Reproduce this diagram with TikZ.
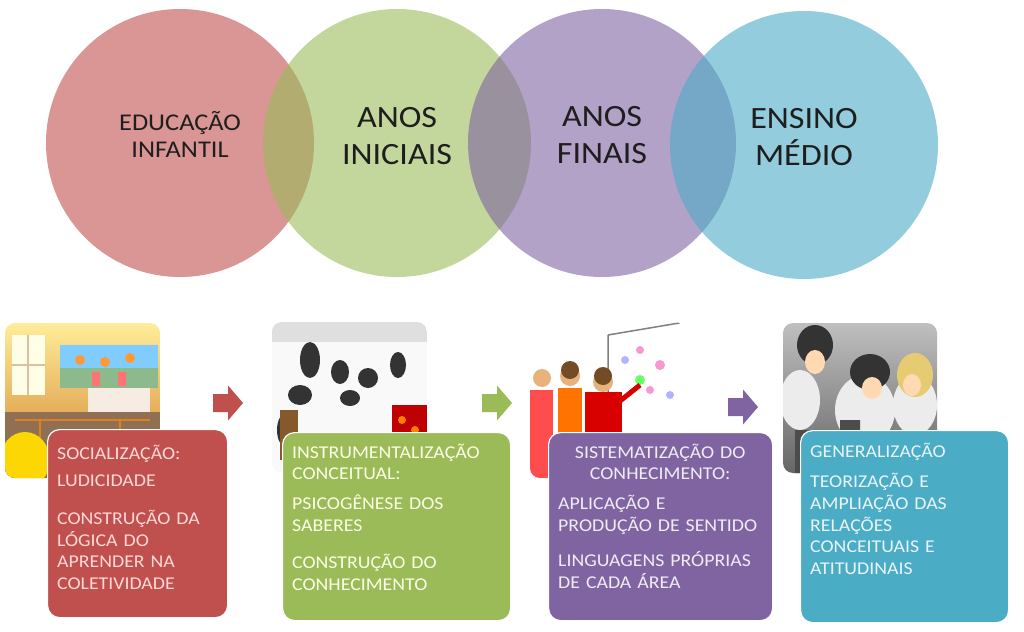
\documentclass[tikz,border=0pt]{standalone}
\usepackage{fontspec}
\setmainfont{Carlito}[FakeStretch=1.1]
\definecolor{redA}{HTML}{C0504D}
\definecolor{greenA}{HTML}{9BBB59}
\definecolor{purpleA}{HTML}{8064A2}
\definecolor{blueA}{HTML}{4BACC6}
\definecolor{inkA}{HTML}{1E1E1E}
\tikzset{
	stage/.style={circle,minimum size=268pt,inner sep=0pt,fill=#1,fill opacity=.6},
	stagetext/.style={align=center,text=inkA,inner sep=0pt,font=\fontsize{31}{37}\selectfont},
	card/.style={draw=white,line width=1.2pt,fill=#1,rounded corners=12pt,anchor=north west,inner sep=0pt},
	cardtext/.style={anchor=base west,inner sep=0pt,text width=#1,align=left,font=\fontsize{18}{21.7}\selectfont},
	photo/.style={rounded corners=10pt},
	pics/steparrow/.style={code={\fill[#1](0,-9)--(15,-9)--(15,-17.5)--(30,0)--(15,17.5)--(15,9)--(0,9)--cycle;}}
}
\begin{document}
\begin{tikzpicture}[x=1pt,y=-1pt]
	\useasboundingbox(0,0)rectangle(1024,631);
	% circles
	\node[stage=redA](ei)at(180,143){};
	\node[stage=greenA](ai)at(397,143){};
	\node[stage=purpleA](af)at(602,143){};
	\node[stage=blueA](em)at(804,145){};
	\node[stagetext,font=\fontsize{24}{27}\selectfont](eit)at([yshift=9pt]ei.center){EDUCAÇÃO\\INFANTIL};
	\node[stagetext](ait)at([yshift=7pt]ai.center){ANOS\\INICIAIS};
	\node[stagetext](aft)at([yshift=8pt]af.center){ANOS\\FINAIS};
	\node[stagetext](emt)at([yshift=8pt]em.center){ENSINO\\MÉDIO};
	% photo 1
	\begin{scope}
		\clip[photo](5,323)rectangle(160,478);
		\shade[top color=orange!35!yellow!40,bottom color=brown!70!orange](5,323)rectangle(160,478);
		\fill[yellow!10!white](12,335)rectangle(45,395);
		\draw[brown!50,line width=1.5pt](28,335)--(28,395)(12,365)--(45,365);
		\fill[blue!40!cyan!50](60,345)rectangle(158,368);
		\fill[green!40!black!45](60,368)rectangle(158,388);
		\fill[orange!80](80,360)circle(5)(105,362)circle(5)(130,358)circle(5);
		\fill[red!55](92,372)rectangle(100,386)(118,372)rectangle(126,386);
		\fill[white!85!brown](88,388)rectangle(150,412);
		\fill[brown!60!black!80](5,412)rectangle(160,478);
		\draw[orange!50!brown,line width=2pt](15,420)--(150,420)(40,420)--(40,470)(120,420)--(120,470);
		\fill[yellow!75!orange](25,460)ellipse(25 and 28);
	\end{scope}
	% photo 2
	\begin{scope}
		\clip[photo](272,322)rectangle(427,473);
		\fill[gray!5](272,322)rectangle(427,473);
		\fill[gray!25](272,322)rectangle(427,342);
		\fill[black!80](310,360)ellipse(10 and 18)(340,372)ellipse(9 and 12)
			(368,378)ellipse(10 and 10)(398,365)ellipse(8 and 13)(300,395)ellipse(12 and 10)
			(350,398)ellipse(10 and 8)(285,430)ellipse(8 and 16);
		\fill[brown!70!black](280,410)rectangle(298,460);
		\fill[red!75!black](392,405)rectangle(427,445);
		\fill[orange](402,420)circle(4)(415,430)circle(4);
	\end{scope}
	% photo 3
	\begin{scope}
		\clip[photo](530,322)rectangle(685,478);
		\fill[white](530,322)rectangle(685,478);
		\draw[gray,line width=1.5pt](608,335)--(685,322)(608,335)--(608,420);
		\fill[magenta!40](640,350)circle(4)(660,365)circle(5)(650,390)circle(4);
		\fill[green!60](640,380)circle(5);
		\fill[blue!30](625,360)circle(4)(670,395)circle(4);
		\fill[red!70!white](530,390)rectangle(553,478);
		\fill[orange!90!red](558,388)rectangle(582,478);
		\fill[red!85!black](585,392)rectangle(622,478);
		\draw[red!85!black,line width=5pt](615,405)--(640,385);
		\fill[orange!40!brown!60](542,378)circle(9)(570,376)circle(10)(603,382)circle(10);
		\fill[brown!60!black](570,370)circle(9)(603,376)circle(9);
	\end{scope}
	% photo 4
	\begin{scope}
		\clip[photo](783,323)rectangle(937,473);
		\shade[top color=gray!50,bottom color=gray!80!black](783,323)rectangle(937,473);
		\fill[gray!15](800,400)ellipse(20 and 30)(865,410)ellipse(30 and 35)(915,405)ellipse(22 and 30);
		\fill[black!80](815,345)ellipse(18 and 20)(870,372)ellipse(20 and 18);
		\fill[yellow!40!brown!70](915,375)ellipse(18 and 22);
		\fill[orange!30!white](815,362)ellipse(10 and 12)(872,388)ellipse(10 and 11)(912,385)ellipse(9 and 11);
		\fill[black!70](795,430)rectangle(815,473)(840,420)rectangle(860,473);
	\end{scope}
	% step arrows
	\pic(ra)at(213,403){steparrow=redA};
	\pic(ga)at(482,403){steparrow=greenA};
	\pic(pa)at(728,407){steparrow=purpleA};
	% cards
	\node[card=redA,minimum width=180pt,minimum height=188pt](c1)at(47,429){};
	\node[card=greenA,minimum width=228pt,minimum height=188pt](c2)at(282,432){};
	\node[card=purpleA,minimum width=224pt,minimum height=188pt](c3)at(548,432){};
	\node[card=blueA,minimum width=208pt,minimum height=192pt](c4)at(800,430){};
	\node[cardtext=165pt,text=red!15!white](t1)at(57,459){SOCIALIZAÇÃO:\\[6pt]
		LUDICIDADE\\[16pt]CONSTRUÇÃO DA\\LÓGICA DO\\APRENDER NA\\COLETIVIDADE};
	\node[cardtext=212pt,text=green!10!yellow!10!white](t2)at(292,458){INSTRUMENTALIZAÇÃO\\CONCEITUAL:\\[8pt]
		PSICOGÊNESE DOS\\SABERES\\[16pt]CONSTRUÇÃO DO\\CONHECIMENTO};
	\node[cardtext=204pt,text=purpleA!12!white](t3)at(558,458){\makebox[\linewidth]{SISTEMATIZAÇÃO DO}\\
		\makebox[\linewidth]{CONHECIMENTO:}\\[8pt]APLICAÇÃO E\\PRODUÇÃO DE SENTIDO\\[14pt]
		LINGUAGENS PRÓPRIAS\\DE CADA ÁREA};
	\node[cardtext=195pt,text=blueA!12!white](t4)at(810,457){GENERALIZAÇÃO\\[9pt]
		TEORIZAÇÃO E\\AMPLIAÇÃO DAS\\RELAÇÕES\\CONCEITUAIS E\\ATITUDINAIS};
\end{tikzpicture}
\end{document}
